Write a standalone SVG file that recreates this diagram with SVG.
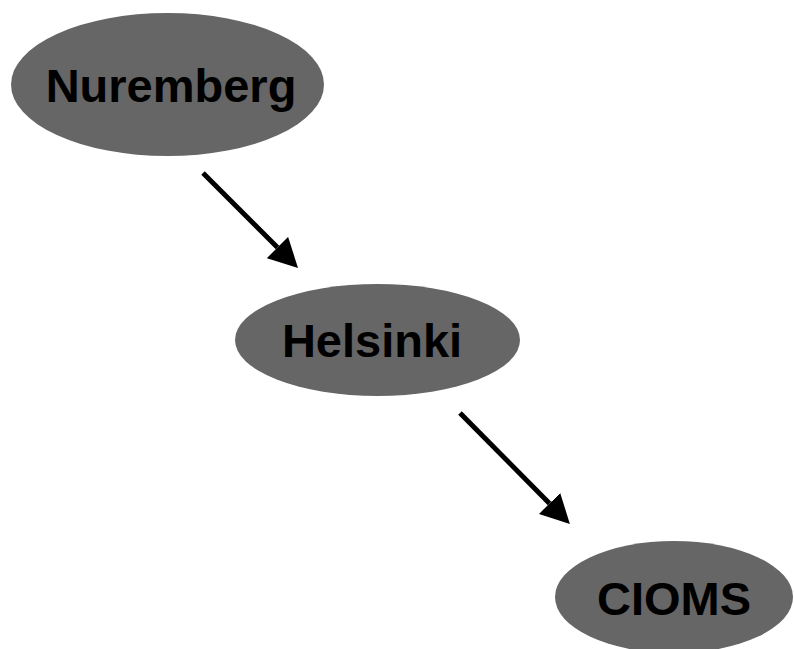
<svg xmlns="http://www.w3.org/2000/svg" width="794" height="649" viewBox="0 0 794 649">
<defs>
<style>
.node{fill:#666666;stroke:none}
.lbl{font-family:"Liberation Sans",Arial,sans-serif;font-weight:bold;font-size:47px;fill:#000;text-anchor:middle}
.edge{stroke:#000;stroke-width:5;fill:none}
</style>
<marker id="ah" viewBox="0 0 29 30" refX="0" refY="15" markerWidth="29" markerHeight="30" markerUnits="userSpaceOnUse" orient="auto">
<path d="M0,0 L29,15 L0,30 Z" fill="#000"/>
</marker>
</defs>
<rect width="794" height="649" fill="#fff"/>
<g id="connectors">
<line class="edge" x1="203" y1="173" x2="277.5" y2="247.5" marker-end="url(#ah)"/>
<line class="edge" x1="460" y1="413" x2="549.5" y2="503.5" marker-end="url(#ah)"/>
</g>
<g id="nuremberg">
<ellipse class="node" cx="167.5" cy="84.5" rx="156.5" ry="71.5"/>
<text class="lbl" x="171" y="102">Nuremberg</text>
</g>
<g id="helsinki">
<ellipse class="node" cx="377.5" cy="340" rx="142.5" ry="56"/>
<text class="lbl" x="372" y="357">Helsinki</text>
</g>
<g id="cioms">
<ellipse class="node" cx="674" cy="597" rx="119" ry="56"/>
<text class="lbl" x="674" y="615">CIOMS</text>
</g>
</svg>
